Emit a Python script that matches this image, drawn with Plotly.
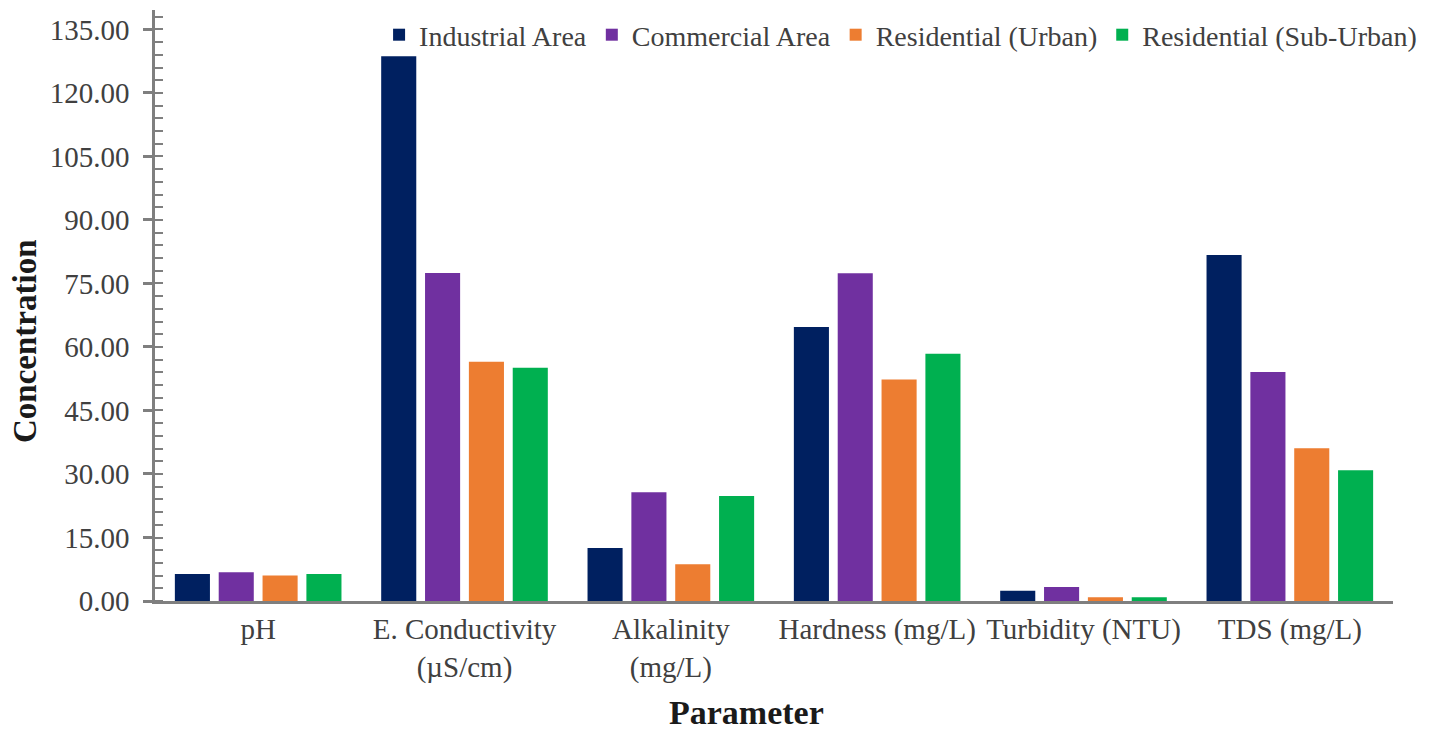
import plotly.graph_objects as go

categories = ["pH", "E. Conductivity<br>(µS/cm)", "Alkalinity<br>(mg/L)",
              "Hardness (mg/L)", "Turbidity (NTU)", "TDS (mg/L)"]

industrial = [6.4, 128.7, 12.5, 64.7, 2.4, 81.7]
commercial = [6.8, 77.5, 25.7, 77.4, 3.3, 54.1]
res_urban = [6.0, 56.5, 8.7, 52.3, 0.9, 36.1]
res_suburban = [6.4, 55.1, 24.8, 58.4, 0.9, 30.9]

series_names = ["Industrial Area", "Commercial Area", "Residential (Urban)", "Residential (Sub-Urban)"]
series_values = [industrial, commercial, res_urban, res_suburban]
colors = ["#002060", "#7030A0", "#ED7D31", "#00B050"]

FONT = "Liberation Serif"
AX = "#7f7f7f"
TXT = "#404040"
TITLE = "#1a1a1a"
YMAX = 139.6

fig = go.Figure()
for name, vals, col in zip(series_names, series_values, colors):
    fig.add_trace(go.Bar(x=categories, y=vals, name=name, marker_color=col,
                         marker_line_width=0))

fig.update_layout(
    width=1442, height=730,
    margin=dict(l=155, r=49, t=10, b=129),
    paper_bgcolor="white", plot_bgcolor="white",
    barmode="group", bargap=0.15, bargroupgap=0.2,
    font=dict(family=FONT, size=29, color=TXT),
    showlegend=True,
    legend=dict(orientation="h", x=0.181, y=1.0, xanchor="left", yanchor="top",
                bgcolor="rgba(0,0,0,0)", font=dict(family=FONT, size=28, color=TXT),
                itemwidth=30, tracegroupgap=0),
    xaxis=dict(showline=True, linecolor=AX, linewidth=3, ticks="", tickangle=0,
               automargin=False, showgrid=False,
               tickfont=dict(family=FONT, size=29, color=TXT)),
    yaxis=dict(range=[0, YMAX], dtick=15, tickformat=".2f", showline=True,
               automargin=False,
               linecolor=AX, linewidth=2.5, ticks="outside", ticklen=9, tickwidth=2.5,
               tickcolor=AX, showgrid=False, zeroline=False,
               ticklabelstandoff=8,
               tickfont=dict(family=FONT, size=29, color=TXT),
               minor=dict(dtick=3, ticks="inside", ticklen=8, tickwidth=2, tickcolor=AX)),
    yaxis2=dict(range=[0, YMAX], dtick=15, overlaying="y", side="left", anchor="x",
                automargin=False,
                showline=False, ticks="inside", ticklen=9, tickwidth=2.5, tickcolor=AX,
                showticklabels=False, showgrid=False, zeroline=False),
    annotations=[
        dict(text="<b>Parameter</b>", xref="paper", yref="paper",
             x=(746 - 155) / 1238, y=0, yshift=-(712 - 601), xanchor="center", yanchor="middle",
             showarrow=False, font=dict(family=FONT, size=34, color=TITLE)),
        dict(text="<b>Concentration</b>", xref="paper", yref="paper",
             x=0, xshift=-(155 - 25), y=(601 - 342) / 591, xanchor="center", yanchor="middle",
             textangle=-90, showarrow=False, font=dict(family=FONT, size=33, color=TITLE)),
    ],
)

fig.write_html("out.html")
